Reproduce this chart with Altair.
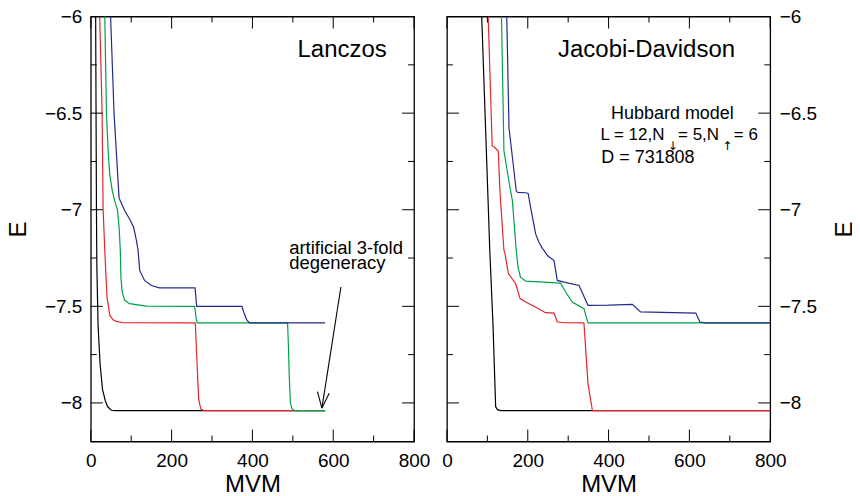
import altair as alt
import pandas as pd

# ---------------- data ----------------
series = ["black", "red", "green", "blue"]
colors = ["#000000", "#e3262b", "#00a04b", "#232a8c"]

# Lanczos panel
lan_black_x = [10, 12, 14, 15, 18, 23, 29, 36, 42, 51, 60, 580]
lan_black_y = [-5.5, -6.0, -7.0, -7.3, -7.6, -7.8, -7.93, -7.99, -8.02, -8.038, -8.04, -8.04]
lan_red_x = [20, 22, 28, 30.5, 34.6, 40, 47, 55, 63, 80, 258, 259, 263, 267, 272, 280, 580]
lan_red_y = [-5.5, -6.0, -6.5, -7.0, -7.21, -7.45, -7.546, -7.57, -7.578, -7.585, -7.586,
             -7.6, -7.8, -7.98, -8.03, -8.04, -8.04]
lan_green_x = [33, 34.6, 38.7, 43, 47, 53, 59, 66, 70, 73, 74.5, 78, 84, 96, 137, 257, 260, 263,
               487, 489, 491, 494, 498, 504, 580]
lan_green_y = [-5.5, -6.0, -6.5, -6.7, -6.82, -6.9, -6.954, -7.0, -7.09, -7.21, -7.35, -7.43,
               -7.469, -7.486, -7.499, -7.5, -7.55, -7.586, -7.586, -7.7, -7.85, -8.0, -8.03,
               -8.04, -8.04]
lan_blue_x = [47, 49, 57.5, 70, 73, 84, 96, 106, 113, 117, 121, 133, 150, 170, 258, 260, 262,
              374, 377, 380, 386, 393, 580]
lan_blue_y = [-5.5, -6.0, -6.5, -6.94, -6.954, -7.005, -7.048, -7.091, -7.16, -7.21, -7.314,
              -7.366, -7.392, -7.404, -7.404, -7.45, -7.5, -7.5, -7.52, -7.538, -7.57, -7.586,
              -7.586]

# Jacobi-Davidson panel
jd_black_x = [83, 86, 106, 114, 120.5, 125, 133, 800]
jd_black_y = [-5.8, -6.0, -7.21, -7.6, -8.02, -8.035, -8.04, -8.04]
jd_red_x = [100, 102, 112, 117, 127, 131, 141, 143, 152, 170, 181, 195, 215, 244, 265, 273, 290,
            339, 349, 360, 800]
jd_red_y = [-5.8, -6.0, -6.67, -6.675, -6.696, -6.9, -7.21, -7.22, -7.33, -7.383, -7.46, -7.478,
            -7.50, -7.533, -7.535, -7.581, -7.585, -7.586, -7.90, -8.04, -8.04]
jd_green_x = [133, 135, 141, 156, 162, 171.5, 176, 182, 195, 240, 281, 295, 310, 339, 349, 800]
jd_green_y = [-5.8, -6.0, -6.696, -6.885, -6.954, -7.21, -7.3, -7.349, -7.37, -7.375, -7.38,
              -7.43, -7.478, -7.512, -7.586, -7.586]
jd_blue_x = [146, 148, 153.5, 171.5, 175, 195, 201, 207, 219.5, 228, 236, 240, 250, 265, 273,
             290, 327, 349, 400, 459, 479, 616, 626, 640, 800]
jd_blue_y = [-5.8, -6.0, -6.576, -6.902, -6.91, -6.912, -6.916, -6.988, -7.125, -7.17, -7.2,
             -7.21, -7.24, -7.263, -7.366, -7.375, -7.392, -7.495, -7.494, -7.49, -7.529, -7.535,
             -7.581, -7.586, -7.586]

# axes
x_labels = [0, 200, 400, 600, 800]
x_major = [0, 200, 400, 600, 800]
x_minor = [100, 300, 500, 700]
y_labels = [-8, -7.5, -7, -6.5, -6]
y_major = [-8, -7.5, -7, -6.5, -6]
y_minor = [-7.75, -7.25, -6.75, -6.25]
x_domain = [0, 800]
y_domain = [-8.2, -6]

# annotations
lan_title = "Lanczos"
lan_title_pos = (622, -6.175)
jd_title = "Jacobi-Davidson"
jd_title_pos = (494, -6.175)
note_lines = ["artificial 3-fold", "degeneracy"]
note_pos = (491, -7.20)
arrow_tail = (619, -7.40)
arrow_tip = (572, -8.027)
arrow_wing1 = (561, -7.942)
arrow_wing2 = (590, -7.950)
hub_title = "Hubbard model"
hub_title_pos = (558, -6.502)
hub_L_parts = ["L = 12,N", "= 5,N", "= 6"]
hub_L_x = [380, 572, 710]
hub_L_y = -6.615
hub_arrows = ["↓", "↑"]
hub_arrows_x = [559, 694]
hub_arrows_y = -6.668
hub_D = "D = 731808"
hub_D_pos = (382, -6.730)

W, H = 324, 426
FONT = "Liberation Sans"
MAJ, MIN = 12, 6


def series_df(xs, ys, name):
    return pd.DataFrame({"x": xs, "y": ys, "s": name, "i": list(range(len(xs)))})


xsc = alt.Scale(domain=x_domain, nice=False, zero=False)
ysc = alt.Scale(domain=y_domain, nice=False, zero=False)
csc = alt.Scale(domain=series, range=colors)


def axes(side):
    xaxis = alt.Axis(values=x_labels, title="MVM", ticks=False, domain=False, grid=False,
                     labelFontSize=19, labelPadding=10, titleFontSize=24, titleFontWeight="normal",
                     titlePadding=2, labelFont=FONT, titleFont=FONT, labelColor="black",
                     titleColor="black", labelFlush=False, labelOverlap=False)
    yaxis = alt.Axis(orient=side, values=y_labels, format=".1~f", title="E", ticks=False,
                     domain=False, grid=False, labelFontSize=19, labelPadding=9,
                     titleFontSize=24, titleFontWeight="normal", titleAngle=270,
                     titlePadding=14 if side == "left" else 40, labelFont=FONT, titleFont=FONT,
                     labelColor="black", titleColor="black", labelFlush=False,
                     labelOverlap=False)
    return xaxis, yaxis


def panel(curves, side, text_specs):
    xaxis, yaxis = axes(side)
    X = lambda: alt.X("x:Q", scale=xsc, axis=xaxis)
    Y = lambda: alt.Y("y:Q", scale=ysc, axis=yaxis)
    layers = []
    for k, (xs, ys) in enumerate(curves):
        df = series_df(xs, ys, series[k])
        layers.append(
            alt.Chart(df).mark_line(strokeWidth=1.2, clip=True).encode(
                x=X(), y=Y(),
                color=alt.Color("s:N", scale=csc, legend=None),
                order="i:Q",
            )
        )
    # inward ticks on all four sides
    for vals, ln in ((x_major, MAJ), (x_minor, MIN)):
        d = pd.DataFrame({"x": vals})
        base = alt.Chart(d).mark_rule(color="black", strokeWidth=1)
        layers.append(base.encode(x=X(), y=alt.value(H), y2=alt.value(H - ln)))
        layers.append(base.encode(x=X(), y=alt.value(0), y2=alt.value(ln)))
    for vals, ln in ((y_major, MAJ), (y_minor, MIN)):
        d = pd.DataFrame({"y": vals})
        base = alt.Chart(d).mark_rule(color="black", strokeWidth=1)
        layers.append(base.encode(y=Y(), x=alt.value(0), x2=alt.value(ln)))
        layers.append(base.encode(y=Y(), x=alt.value(W), x2=alt.value(W - ln)))
    for spec in text_specs:
        kind = spec[0]
        if kind == "text":
            _, xs, ys, labels, size, align, extra = spec
            d = pd.DataFrame({"x": xs, "y": ys, "t": labels})
            layers.append(
                alt.Chart(d).mark_text(fontSize=size, align=align, baseline="middle",
                                       color="black", fill="black", **extra)
                .encode(x=X(), y=Y(), text="t")
            )
        else:
            _, x1, y1, x2, y2 = spec
            d = pd.DataFrame({"x": x1, "y": y1, "x2": x2, "y2": y2})
            layers.append(
                alt.Chart(d).mark_rule(color="black", strokeWidth=1.1)
                .encode(x=X(), y=Y(), x2="x2:Q", y2="y2:Q")
            )
    return alt.layer(*layers).properties(width=W, height=H)


lan_texts = [
    ("text", [lan_title_pos[0]], [lan_title_pos[1]], [lan_title], 24, "center", {"font": FONT}),
    ("text", [note_pos[0]], [note_pos[1]], [note_lines], 18.5, "left",
     {"font": FONT, "lineHeight": 15}),
    ("seg", [arrow_tail[0], arrow_tip[0], arrow_tip[0]],
     [arrow_tail[1], arrow_tip[1], arrow_tip[1]],
     [arrow_tip[0], arrow_wing1[0], arrow_wing2[0]],
     [arrow_tip[1], arrow_wing1[1], arrow_wing2[1]]),
]

jd_texts = [
    ("text", [jd_title_pos[0]], [jd_title_pos[1]], [jd_title], 24, "center", {"font": FONT}),
    ("text", [hub_title_pos[0]], [hub_title_pos[1]], [hub_title], 18, "center", {"font": FONT}),
    ("text", hub_L_x, [hub_L_y] * len(hub_L_x), hub_L_parts, 17, "left", {"font": FONT}),
    ("text", hub_arrows_x, [hub_arrows_y] * 2, hub_arrows, 12, "center",
     {"font": "DejaVu Sans"}),
    ("text", [hub_D_pos[0]], [hub_D_pos[1]], [hub_D], 18, "left", {"font": FONT}),
]

left = panel([(lan_black_x, lan_black_y), (lan_red_x, lan_red_y),
              (lan_green_x, lan_green_y), (lan_blue_x, lan_blue_y)], "left", lan_texts)
right = panel([(jd_black_x, jd_black_y), (jd_red_x, jd_red_y),
               (jd_green_x, jd_green_y), (jd_blue_x, jd_blue_y)], "right", jd_texts)

chart = alt.hconcat(left, right, spacing=33, bounds="flush").properties(
    padding={"top": -2, "left": -3, "right": -6, "bottom": 0}
).configure(font=FONT).configure_view(stroke="black", strokeWidth=1.3)

chart.save("out.html", embed_options={"renderer": "svg", "actions": False})
